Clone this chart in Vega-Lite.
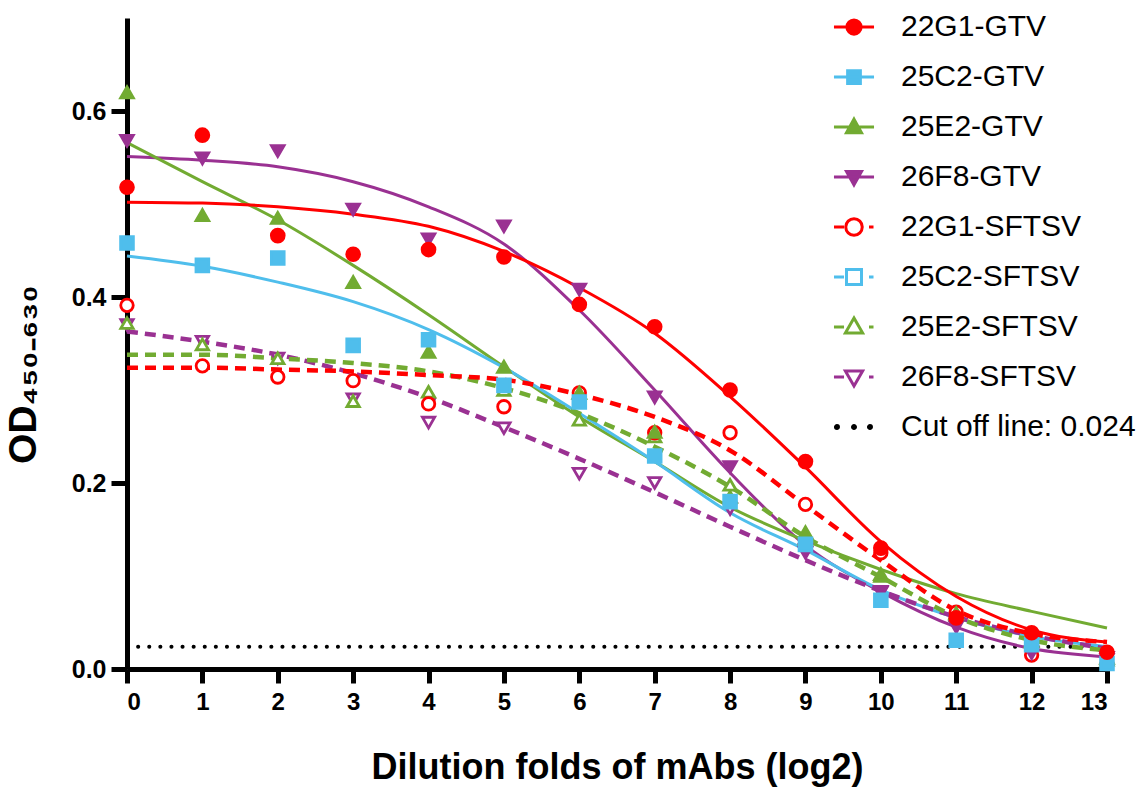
{
  "$schema": "https://vega.github.io/schema/vega-lite/v6.json",
  "width": 980,
  "height": 651,
  "autosize": {"type": "none"},
  "padding": {"left": 127, "top": 18, "right": 38, "bottom": 119},
  "background": "white",
  "config": {
    "view": {"stroke": null},
    "font": "Liberation Sans",
    "axis": {"grid": false, "domainColor": "black", "tickColor": "black", "labelColor": "black", "titleColor": "black", "labelFont": "Liberation Sans", "titleFont": "Liberation Sans", "labelFontWeight": "bold", "titleFontWeight": "bold"},
    "legend": {"title": null, "orient": "none", "legendX": 712, "legendY": -6, "padding": 0, "symbolSize": 225, "symbolStrokeWidth": 3, "labelFontSize": 30, "labelFont": "Liberation Sans", "labelFontWeight": "normal", "labelColor": "black", "labelOffset": 32, "labelLimit": 400, "rowPadding": 20}
  },
  "resolve": {"scale": {"stroke": "independent", "fill": "independent", "shape": "independent", "size": "independent"}},
  "datasets": {
    "pts": [
      {"s": "26F8-SFTSV", "x": 0, "y": 0.370}, {"s": "26F8-SFTSV", "x": 1, "y": 0.352}, {"s": "26F8-SFTSV", "x": 2, "y": 0.334}, {"s": "26F8-SFTSV", "x": 3, "y": 0.290}, {"s": "26F8-SFTSV", "x": 4, "y": 0.265}, {"s": "26F8-SFTSV", "x": 5, "y": 0.259}, {"s": "26F8-SFTSV", "x": 6, "y": 0.210}, {"s": "26F8-SFTSV", "x": 7, "y": 0.200}, {"s": "26F8-SFTSV", "x": 8, "y": 0.172}, {"s": "26F8-SFTSV", "x": 9, "y": 0.128}, {"s": "26F8-SFTSV", "x": 10, "y": 0.082}, {"s": "26F8-SFTSV", "x": 11, "y": 0.048}, {"s": "26F8-SFTSV", "x": 12, "y": 0.018}, {"s": "26F8-SFTSV", "x": 13, "y": 0.010},
      {"s": "25E2-SFTSV", "x": 0, "y": 0.372}, {"s": "25E2-SFTSV", "x": 1, "y": 0.349}, {"s": "25E2-SFTSV", "x": 2, "y": 0.334}, {"s": "25E2-SFTSV", "x": 3, "y": 0.288}, {"s": "25E2-SFTSV", "x": 4, "y": 0.298}, {"s": "25E2-SFTSV", "x": 5, "y": 0.300}, {"s": "25E2-SFTSV", "x": 6, "y": 0.268}, {"s": "25E2-SFTSV", "x": 7, "y": 0.250}, {"s": "25E2-SFTSV", "x": 8, "y": 0.198}, {"s": "25E2-SFTSV", "x": 9, "y": 0.140}, {"s": "25E2-SFTSV", "x": 10, "y": 0.100}, {"s": "25E2-SFTSV", "x": 11, "y": 0.058}, {"s": "25E2-SFTSV", "x": 12, "y": 0.030}, {"s": "25E2-SFTSV", "x": 13, "y": 0.010},
      {"s": "22G1-SFTSV", "x": 0, "y": 0.391}, {"s": "22G1-SFTSV", "x": 1, "y": 0.326}, {"s": "22G1-SFTSV", "x": 2, "y": 0.314}, {"s": "22G1-SFTSV", "x": 3, "y": 0.310}, {"s": "22G1-SFTSV", "x": 4, "y": 0.285}, {"s": "22G1-SFTSV", "x": 5, "y": 0.282}, {"s": "22G1-SFTSV", "x": 6, "y": 0.297}, {"s": "22G1-SFTSV", "x": 7, "y": 0.254}, {"s": "22G1-SFTSV", "x": 8, "y": 0.254}, {"s": "22G1-SFTSV", "x": 9, "y": 0.177}, {"s": "22G1-SFTSV", "x": 10, "y": 0.125}, {"s": "22G1-SFTSV", "x": 11, "y": 0.061}, {"s": "22G1-SFTSV", "x": 12, "y": 0.015}, {"s": "22G1-SFTSV", "x": 13, "y": 0.006},
      {"s": "26F8-GTV", "x": 0, "y": 0.568}, {"s": "26F8-GTV", "x": 1, "y": 0.549}, {"s": "26F8-GTV", "x": 2, "y": 0.557}, {"s": "26F8-GTV", "x": 3, "y": 0.494}, {"s": "26F8-GTV", "x": 4, "y": 0.462}, {"s": "26F8-GTV", "x": 5, "y": 0.476}, {"s": "26F8-GTV", "x": 6, "y": 0.408}, {"s": "26F8-GTV", "x": 7, "y": 0.292}, {"s": "26F8-GTV", "x": 8, "y": 0.217}, {"s": "26F8-GTV", "x": 9, "y": 0.125}, {"s": "26F8-GTV", "x": 10, "y": 0.083}, {"s": "26F8-GTV", "x": 11, "y": 0.045}, {"s": "26F8-GTV", "x": 12, "y": 0.017}, {"s": "26F8-GTV", "x": 13, "y": 0.012},
      {"s": "25E2-GTV", "x": 0, "y": 0.620}, {"s": "25E2-GTV", "x": 1, "y": 0.488}, {"s": "25E2-GTV", "x": 2, "y": 0.485}, {"s": "25E2-GTV", "x": 3, "y": 0.416}, {"s": "25E2-GTV", "x": 4, "y": 0.341}, {"s": "25E2-GTV", "x": 5, "y": 0.325}, {"s": "25E2-GTV", "x": 6, "y": 0.297}, {"s": "25E2-GTV", "x": 7, "y": 0.255}, {"s": "25E2-GTV", "x": 8, "y": 0.185}, {"s": "25E2-GTV", "x": 9, "y": 0.147}, {"s": "25E2-GTV", "x": 10, "y": 0.102}, {"s": "25E2-GTV", "x": 11, "y": 0.060}, {"s": "25E2-GTV", "x": 12, "y": 0.030}, {"s": "25E2-GTV", "x": 13, "y": 0.012},
      {"s": "25C2-GTV", "x": 0, "y": 0.458}, {"s": "25C2-GTV", "x": 1, "y": 0.434}, {"s": "25C2-GTV", "x": 2, "y": 0.442}, {"s": "25C2-GTV", "x": 3, "y": 0.348}, {"s": "25C2-GTV", "x": 4, "y": 0.354}, {"s": "25C2-GTV", "x": 5, "y": 0.305}, {"s": "25C2-GTV", "x": 6, "y": 0.287}, {"s": "25C2-GTV", "x": 7, "y": 0.229}, {"s": "25C2-GTV", "x": 8, "y": 0.180}, {"s": "25C2-GTV", "x": 9, "y": 0.134}, {"s": "25C2-GTV", "x": 10, "y": 0.074}, {"s": "25C2-GTV", "x": 11, "y": 0.031}, {"s": "25C2-GTV", "x": 12, "y": 0.026}, {"s": "25C2-GTV", "x": 13, "y": 0.006},
      {"s": "22G1-GTV", "x": 0, "y": 0.518}, {"s": "22G1-GTV", "x": 1, "y": 0.574}, {"s": "22G1-GTV", "x": 2, "y": 0.466}, {"s": "22G1-GTV", "x": 3, "y": 0.446}, {"s": "22G1-GTV", "x": 4, "y": 0.451}, {"s": "22G1-GTV", "x": 5, "y": 0.443}, {"s": "22G1-GTV", "x": 6, "y": 0.392}, {"s": "22G1-GTV", "x": 7, "y": 0.368}, {"s": "22G1-GTV", "x": 8, "y": 0.300}, {"s": "22G1-GTV", "x": 9, "y": 0.223}, {"s": "22G1-GTV", "x": 10, "y": 0.130}, {"s": "22G1-GTV", "x": 11, "y": 0.055}, {"s": "22G1-GTV", "x": 12, "y": 0.039}, {"s": "22G1-GTV", "x": 13, "y": 0.018}
    ],
    "fit": [
      {"s": "26F8-SFTSV", "x": 0, "y": 0.363}, {"s": "26F8-SFTSV", "x": 1, "y": 0.352}, {"s": "26F8-SFTSV", "x": 2, "y": 0.338}, {"s": "26F8-SFTSV", "x": 3, "y": 0.318}, {"s": "26F8-SFTSV", "x": 4, "y": 0.292}, {"s": "26F8-SFTSV", "x": 5, "y": 0.260}, {"s": "26F8-SFTSV", "x": 6, "y": 0.226}, {"s": "26F8-SFTSV", "x": 7, "y": 0.190}, {"s": "26F8-SFTSV", "x": 8, "y": 0.153}, {"s": "26F8-SFTSV", "x": 9, "y": 0.117}, {"s": "26F8-SFTSV", "x": 10, "y": 0.084}, {"s": "26F8-SFTSV", "x": 11, "y": 0.056}, {"s": "26F8-SFTSV", "x": 12, "y": 0.036}, {"s": "26F8-SFTSV", "x": 13, "y": 0.022},
      {"s": "25E2-SFTSV", "x": 0, "y": 0.338}, {"s": "25E2-SFTSV", "x": 1, "y": 0.338}, {"s": "25E2-SFTSV", "x": 2, "y": 0.334}, {"s": "25E2-SFTSV", "x": 3, "y": 0.329}, {"s": "25E2-SFTSV", "x": 4, "y": 0.320}, {"s": "25E2-SFTSV", "x": 5, "y": 0.302}, {"s": "25E2-SFTSV", "x": 6, "y": 0.275}, {"s": "25E2-SFTSV", "x": 7, "y": 0.239}, {"s": "25E2-SFTSV", "x": 8, "y": 0.196}, {"s": "25E2-SFTSV", "x": 9, "y": 0.142}, {"s": "25E2-SFTSV", "x": 10, "y": 0.099}, {"s": "25E2-SFTSV", "x": 11, "y": 0.056}, {"s": "25E2-SFTSV", "x": 12, "y": 0.031}, {"s": "25E2-SFTSV", "x": 13, "y": 0.020},
      {"s": "22G1-SFTSV", "x": 0, "y": 0.324}, {"s": "22G1-SFTSV", "x": 1, "y": 0.324}, {"s": "22G1-SFTSV", "x": 2, "y": 0.322}, {"s": "22G1-SFTSV", "x": 3, "y": 0.320}, {"s": "22G1-SFTSV", "x": 4, "y": 0.316}, {"s": "22G1-SFTSV", "x": 5, "y": 0.311}, {"s": "22G1-SFTSV", "x": 6, "y": 0.295}, {"s": "22G1-SFTSV", "x": 7, "y": 0.271}, {"s": "22G1-SFTSV", "x": 8, "y": 0.235}, {"s": "22G1-SFTSV", "x": 9, "y": 0.176}, {"s": "22G1-SFTSV", "x": 10, "y": 0.117}, {"s": "22G1-SFTSV", "x": 11, "y": 0.063}, {"s": "22G1-SFTSV", "x": 12, "y": 0.038}, {"s": "22G1-SFTSV", "x": 13, "y": 0.029},
      {"s": "26F8-GTV", "x": 0, "y": 0.551}, {"s": "26F8-GTV", "x": 1, "y": 0.547}, {"s": "26F8-GTV", "x": 2, "y": 0.540}, {"s": "26F8-GTV", "x": 3, "y": 0.524}, {"s": "26F8-GTV", "x": 4, "y": 0.497}, {"s": "26F8-GTV", "x": 5, "y": 0.457}, {"s": "26F8-GTV", "x": 6, "y": 0.386}, {"s": "26F8-GTV", "x": 7, "y": 0.300}, {"s": "26F8-GTV", "x": 8, "y": 0.211}, {"s": "26F8-GTV", "x": 9, "y": 0.133}, {"s": "26F8-GTV", "x": 10, "y": 0.083}, {"s": "26F8-GTV", "x": 11, "y": 0.045}, {"s": "26F8-GTV", "x": 12, "y": 0.022}, {"s": "26F8-GTV", "x": 13, "y": 0.013},
      {"s": "25E2-GTV", "x": 0, "y": 0.566}, {"s": "25E2-GTV", "x": 1, "y": 0.524}, {"s": "25E2-GTV", "x": 2, "y": 0.483}, {"s": "25E2-GTV", "x": 3, "y": 0.434}, {"s": "25E2-GTV", "x": 4, "y": 0.381}, {"s": "25E2-GTV", "x": 5, "y": 0.325}, {"s": "25E2-GTV", "x": 6, "y": 0.271}, {"s": "25E2-GTV", "x": 7, "y": 0.223}, {"s": "25E2-GTV", "x": 8, "y": 0.174}, {"s": "25E2-GTV", "x": 9, "y": 0.138}, {"s": "25E2-GTV", "x": 10, "y": 0.107}, {"s": "25E2-GTV", "x": 11, "y": 0.081}, {"s": "25E2-GTV", "x": 12, "y": 0.062}, {"s": "25E2-GTV", "x": 13, "y": 0.044},
      {"s": "25C2-GTV", "x": 0, "y": 0.444}, {"s": "25C2-GTV", "x": 1, "y": 0.433}, {"s": "25C2-GTV", "x": 2, "y": 0.416}, {"s": "25C2-GTV", "x": 3, "y": 0.395}, {"s": "25C2-GTV", "x": 4, "y": 0.365}, {"s": "25C2-GTV", "x": 5, "y": 0.324}, {"s": "25C2-GTV", "x": 6, "y": 0.275}, {"s": "25C2-GTV", "x": 7, "y": 0.223}, {"s": "25C2-GTV", "x": 8, "y": 0.168}, {"s": "25C2-GTV", "x": 9, "y": 0.128}, {"s": "25C2-GTV", "x": 10, "y": 0.085}, {"s": "25C2-GTV", "x": 11, "y": 0.055}, {"s": "25C2-GTV", "x": 12, "y": 0.035}, {"s": "25C2-GTV", "x": 13, "y": 0.024},
      {"s": "22G1-GTV", "x": 0, "y": 0.502}, {"s": "22G1-GTV", "x": 1, "y": 0.501}, {"s": "22G1-GTV", "x": 2, "y": 0.497}, {"s": "22G1-GTV", "x": 3, "y": 0.489}, {"s": "22G1-GTV", "x": 4, "y": 0.476}, {"s": "22G1-GTV", "x": 5, "y": 0.449}, {"s": "22G1-GTV", "x": 6, "y": 0.410}, {"s": "22G1-GTV", "x": 7, "y": 0.361}, {"s": "22G1-GTV", "x": 8, "y": 0.293}, {"s": "22G1-GTV", "x": 9, "y": 0.217}, {"s": "22G1-GTV", "x": 10, "y": 0.137}, {"s": "22G1-GTV", "x": 11, "y": 0.078}, {"s": "22G1-GTV", "x": 12, "y": 0.042}, {"s": "22G1-GTV", "x": 13, "y": 0.029}
    ],
    "cut": [{"label": "Cut off line: 0.024", "y": 0.024, "x0": 0, "x1": 13}]
  },
  "layer": [
    {
      "data": {"name": "cut"},
      "mark": {"type": "rule", "color": "black", "strokeWidth": 4, "strokeDash": [0.1, 11], "strokeCap": "round"},
      "encoding": {
        "x": {"field": "x0", "type": "quantitative", "scale": {"domain": [0, 13], "nice": false, "zero": false},
          "axis": {"values": [0,1,2,3,4,5,6,7,8,9,10,11,12,13], "format": "d", "domainWidth": 5, "tickWidth": 5, "tickSize": 14, "labelFontSize": 24, "labelPadding": 7, "title": "Dilution folds of mAbs (log2)", "titleFontSize": 36, "titlePadding": 36}},
        "x2": {"field": "x1"},
        "y": {"field": "y", "type": "quantitative", "scale": {"domain": [0, 0.7], "nice": false},
          "axis": {"values": [0, 0.2, 0.4, 0.6], "format": ".1f", "domainWidth": 5, "tickWidth": 5, "tickSize": 16, "labelFontSize": 25, "labelPadding": 5, "title": "OD\u2084\u2085\u2080\u208b\u2086\u2083\u2080", "titleFontSize": 39, "titlePadding": 28, "titleY": 356}}
      }
    },
    {
      "data": {"name": "fit"},
      "transform": [{"filter": {"field": "s", "oneOf": ["22G1-GTV","25C2-GTV","25E2-GTV","26F8-GTV"]}}],
      "mark": {"type": "line", "interpolate": "monotone", "strokeWidth": 3},
      "encoding": {
        "x": {"field": "x", "type": "quantitative"},
        "y": {"field": "y", "type": "quantitative"},
        "detail": {"field": "s"},
        "stroke": {"field": "s", "type": "nominal",
          "scale": {"domain": ["22G1-GTV","25C2-GTV","25E2-GTV","26F8-GTV"], "range": ["#FF0000","#4FBEEC","#72AB32","#9A3192"]},
          "legend": null}
      }
    },
    {
      "data": {"name": "fit"},
      "transform": [{"filter": {"field": "s", "oneOf": ["22G1-SFTSV","25C2-SFTSV","25E2-SFTSV","26F8-SFTSV"]}}],
      "mark": {"type": "line", "interpolate": "monotone", "strokeWidth": 4.5, "strokeDash": [11, 7]},
      "encoding": {
        "x": {"field": "x", "type": "quantitative"},
        "y": {"field": "y", "type": "quantitative"},
        "detail": {"field": "s"},
        "stroke": {"field": "s", "type": "nominal",
          "scale": {"domain": ["22G1-SFTSV","25C2-SFTSV","25E2-SFTSV","26F8-SFTSV"], "range": ["#FF0000","#4FBEEC","#72AB32","#9A3192"]},
          "legend": null}
      }
    },
    {
      "data": {"name": "pts"},
      "mark": {"type": "point", "opacity": 1, "strokeWidth": 2.8},
      "encoding": {
        "x": {"field": "x", "type": "quantitative"},
        "y": {"field": "y", "type": "quantitative"},
        "stroke": {"field": "s", "type": "nominal",
          "scale": {"domain": ["22G1-GTV","25C2-GTV","25E2-GTV","26F8-GTV","22G1-SFTSV","25C2-SFTSV","25E2-SFTSV","26F8-SFTSV"],
                    "range": ["#FF0000","#4FBEEC","#72AB32","#9A3192","#FF0000","#4FBEEC","#72AB32","#9A3192"]}, "legend": null},
        "fill": {"field": "s", "type": "nominal",
          "scale": {"domain": ["22G1-GTV","25C2-GTV","25E2-GTV","26F8-GTV","22G1-SFTSV","25C2-SFTSV","25E2-SFTSV","26F8-SFTSV"],
                    "range": ["#FF0000","#4FBEEC","#72AB32","#9A3192","white","white","white","white"]}, "legend": null},
        "shape": {"field": "s", "type": "nominal",
          "scale": {"domain": ["22G1-GTV","25C2-GTV","25E2-GTV","26F8-GTV","22G1-SFTSV","25C2-SFTSV","25E2-SFTSV","26F8-SFTSV"],
                    "range": ["circle","square","triangle-up","triangle-down","circle","square","triangle-up","triangle-down"]}, "legend": null},
        "size": {"field": "s", "type": "nominal",
          "scale": {"domain": ["22G1-GTV","25C2-GTV","25E2-GTV","26F8-GTV","22G1-SFTSV","25C2-SFTSV","25E2-SFTSV","26F8-SFTSV"],
                    "range": [165,150,165,165,230,200,210,210]}, "legend": null}
      }
    },
    {
      "data": {"name": "pts"},
      "transform": [{"filter": "datum.y > 5"}],
      "mark": {"type": "point", "opacity": 1, "strokeWidth": 3, "filled": false},
      "encoding": {
        "x": {"field": "x", "type": "quantitative"},
        "y": {"field": "y", "type": "quantitative"},
        "shape": {"field": "s", "type": "nominal",
          "scale": {"domain": ["22G1-GTV","25C2-GTV","25E2-GTV","26F8-GTV","22G1-SFTSV","25C2-SFTSV","25E2-SFTSV","26F8-SFTSV","Cut off line: 0.024"],
                    "range": ["M-2.67,0H2.67M-0.95,0A0.95,0.95,0,1,1,0.95,0A0.95,0.95,0,1,1,-0.95,0Z","M-2.67,0H2.67M-0.85,-0.85H0.85V0.85H-0.85Z","M-2.67,0H2.67M0,-1.05L1.0,0.75H-1.0Z","M-2.67,0H2.67M0,1.05L1.0,-0.75H-1.0Z","M-2.67,0H-1.33M2.0,0H2.6M-1.1,0A1.1,1.1,0,1,1,1.1,0A1.1,1.1,0,1,1,-1.1,0Z","M-2.67,0H-1.33M2.0,0H2.6M-1,-1H1V1H-1Z","M-2.67,0H-1.33M2.0,0H2.6M0,-1.2L1.15,0.8H-1.15Z","M-2.67,0H-1.33M2.0,0H2.6M0,1.2L1.15,-0.8H-1.15Z","M-2.47,0A0.2,0.2,0,1,1,-2.07,0A0.2,0.2,0,1,1,-2.47,0ZM-0.2,0A0.2,0.2,0,1,1,0.2,0A0.2,0.2,0,1,1,-0.2,0ZM1.93,0A0.2,0.2,0,1,1,2.33,0A0.2,0.2,0,1,1,1.93,0Z"]}},
        "fill": {"field": "s", "type": "nominal",
          "scale": {"domain": ["22G1-GTV","25C2-GTV","25E2-GTV","26F8-GTV","22G1-SFTSV","25C2-SFTSV","25E2-SFTSV","26F8-SFTSV","Cut off line: 0.024"],
                    "range": ["#FF0000","#4FBEEC","#72AB32","#9A3192","white","white","white","white","black"]}},
        "stroke": {"field": "s", "type": "nominal",
          "scale": {"domain": ["22G1-GTV","25C2-GTV","25E2-GTV","26F8-GTV","22G1-SFTSV","25C2-SFTSV","25E2-SFTSV","26F8-SFTSV","Cut off line: 0.024"],
                    "range": ["#FF0000","#4FBEEC","#72AB32","#9A3192","#FF0000","#4FBEEC","#72AB32","#9A3192","black"]}}
      }
    }
  ]
}
